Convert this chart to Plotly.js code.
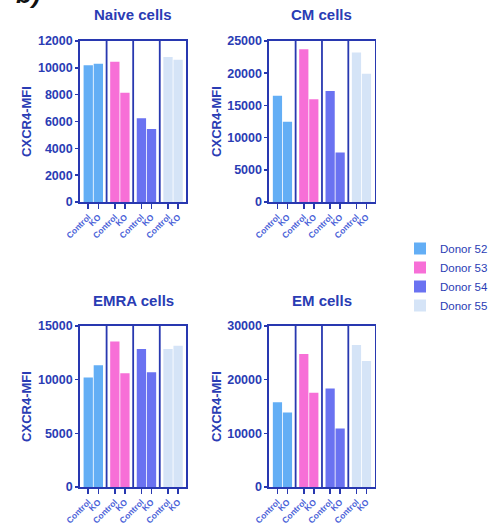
<!DOCTYPE html>
<html>
<head>
<meta charset="utf-8">
<script src="https://cdn.plot.ly/plotly-3.0.1.min.js"></script>
<style>html,body{margin:0;padding:0;background:#fff;}#chart{width:493px;height:527px;}</style>
</head>
<body>
<div id="chart"></div>
<script>
// ---- data ----
const donors = ['Donor 52', 'Donor 53', 'Donor 54', 'Donor 55'];
const conditions = ['Control', 'KO'];
const panelTitles = ['Naive cells', 'CM cells', 'EMRA cells', 'EM cells'];
const yAxisTitle = 'CXCR4-MFI';

const naiveControl = [10200, 10450, 6250, 10800];
const naiveKO      = [10300, 8150, 5450, 10600];
const cmControl    = [16500, 23700, 17250, 23200];
const cmKO         = [12450, 15950, 7700, 19900];
const emraControl  = [10200, 13550, 12850, 12850];
const emraKO       = [11350, 10600, 10700, 13150];
const emControl    = [15800, 24800, 18350, 26450];
const emKO         = [13900, 17550, 10900, 23500];

const yMax  = [12000, 25000, 15000, 30000];
const yStep = [2000, 5000, 5000, 10000];

// ---- styling ----
const donorColors = ['#63aef5', '#f76fd7', '#6a72f1', '#d5e4f7'];
const axisColor = '#2838b0';
const textColor = '#2a3cb4';
const tickTextColor = '#4a62d8';
const FONT = 'Liberation Sans, Arial, Helvetica, sans-serif';

const W = 493, H = 527;
const px = v => v / W;
const py = v => 1 - v / H;

const panels = [
  {c: naiveControl, k: naiveKO, xd: [px(82), px(191)], yd: [py(202), py(41)]},
  {c: cmControl,    k: cmKO,    xd: [px(276), px(384)], yd: [py(202), py(41)]},
  {c: emraControl,  k: emraKO,  xd: [px(82), px(191)], yd: [py(487), py(326)]},
  {c: emControl,    k: emKO,    xd: [px(276), px(384)], yd: [py(487), py(326)]}
];

const off = 0.19, bw = 0.35;
const traces = [];
const layout = {
  width: W, height: H,
  margin: {l: 0, r: 0, t: 0, b: 0},
  paper_bgcolor: '#fff', plot_bgcolor: 'rgba(0,0,0,0)',
  barmode: 'overlay',
  font: {family: FONT, color: textColor},
  showlegend: true,
  legend: {
    x: px(410), y: py(234), xanchor: 'left', yanchor: 'top',
    font: {family: FONT, size: 11.5, color: textColor},
    bgcolor: 'rgba(0,0,0,0)', tracegroupgap: 0
  },
  shapes: [],
  annotations: []
};

panels.forEach((p, i) => {
  const n = i + 1;
  const xa = 'x' + (n === 1 ? '' : n);
  const ya = 'y' + (n === 1 ? '' : n);
  const tickvals = [], ticktext = [];
  donors.forEach((d, g) => {
    tickvals.push(g - off, g + off);
    ticktext.push(conditions[0], conditions[1]);
    traces.push({
      type: 'bar',
      x: [g - off, g + off],
      y: [p.c[g], p.k[g]],
      width: bw,
      name: d,
      legendgroup: d,
      showlegend: i === 0,
      marker: {color: donorColors[g], line: {width: 0}},
      xaxis: xa, yaxis: ya,
      hoverinfo: 'y+name'
    });
    if (g > 0) {
      layout.shapes.push({
        type: 'line', xref: xa, yref: ya + ' domain',
        x0: g - 0.5, x1: g - 0.5, y0: 0, y1: 1,
        line: {color: axisColor, width: 1.8}
      });
    }
  });
  layout['xaxis' + (n === 1 ? '' : n)] = {
    domain: p.xd, anchor: ya, range: [-0.5, donors.length - 0.5],
    tickmode: 'array', tickvals: tickvals, ticktext: ticktext,
    tickangle: -45, ticks: 'outside', ticklen: 5, tickwidth: 1.5, tickcolor: axisColor,
    tickfont: {family: FONT, size: 8.5, color: tickTextColor, weight: 'bold'},
    showline: true, linecolor: axisColor, linewidth: 1.8, mirror: true,
    showgrid: false, zeroline: false, fixedrange: true
  };
  layout['yaxis' + (n === 1 ? '' : n)] = {
    domain: p.yd, anchor: xa, range: [0, yMax[i]], dtick: yStep[i], tick0: 0,
    tickformat: 'd',
    ticks: 'outside', ticklen: 3, tickwidth: 1.5, tickcolor: axisColor,
    tickfont: {family: FONT, size: 12.5, color: textColor, weight: 'bold'},
    showline: true, linecolor: axisColor, linewidth: 1.8, mirror: true,
    showgrid: false, zeroline: false, fixedrange: true,
    title: {text: yAxisTitle, font: {family: FONT, size: 13, color: textColor, weight: 'bold'}, standoff: 3}
  };
  layout.annotations.push({
    text: panelTitles[i], xref: 'paper', yref: 'paper',
    x: (p.xd[0] + p.xd[1]) / 2, y: p.yd[1] + 26 / H,
    xanchor: 'center', yanchor: 'middle', showarrow: false,
    font: {family: FONT, size: 15, color: textColor, weight: 'bold'}
  });
});

layout.annotations.push({
  text: '<b><i>b)</i></b>', xref: 'paper', yref: 'paper',
  x: px(14), y: py(11), xanchor: 'left', yanchor: 'bottom', showarrow: false,
  font: {family: FONT, size: 26, color: '#111'}
});

Plotly.newPlot('chart', traces, layout, {displayModeBar: false, staticPlot: true});
</script>
</body>
</html>
